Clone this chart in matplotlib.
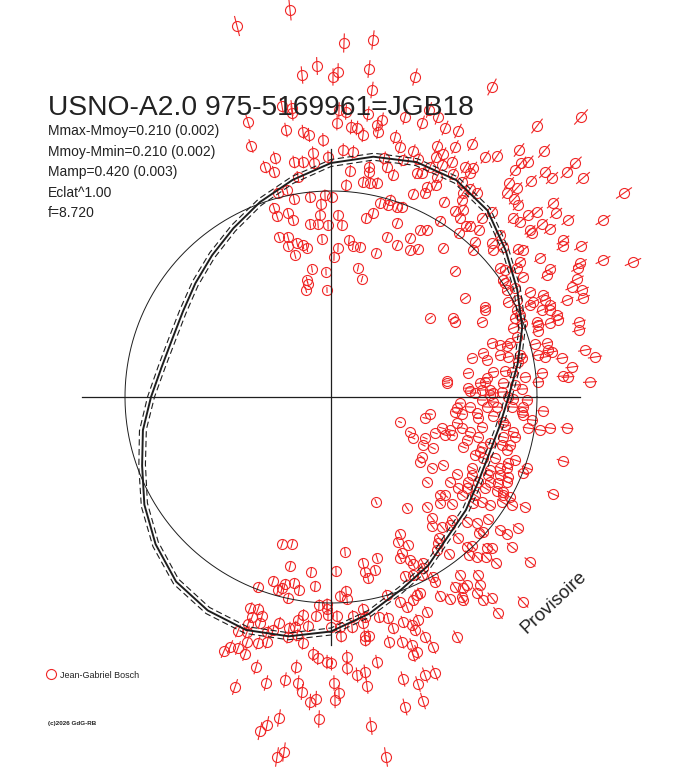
import numpy as np
import matplotlib
matplotlib.use("Agg")
import matplotlib.pyplot as plt
from matplotlib.collections import LineCollection
from matplotlib.lines import Line2D

plt.rcParams['font.family'] = ['Liberation Sans', 'DejaVu Sans']
plt.rcParams['lines.scale_dashes'] = False

# ---------------------------------------------------------------- texts
title_text = "USNO-A2.0 975-5169961=JGB18"
stats_lines = ["Mmax-Mmoy=0.210 (0.002)", "Mmoy-Mmin=0.210 (0.002)",
               "Mamp=0.420 (0.003)", "Eclat^1.00", "f=8.720"]
observer = "Jean-Gabriel Bosch"
copyright_text = "(c)2026 GdG-RB"
stamp_text = "Provisoire"

# ---------------------------------------------------------------- data
# polar light curve: observations projected on the plane (mean brightness = radius 206)
mean_radius = 206
err_frac = 0.027          # relative error on brightness
model_band = 3.5          # +/- band of the fitted curve

model_angle_deg = [0, 10, 20, 30, 40, 50, 60, 70, 80, 90, 100, 110,
                   120, 130, 140, 150, 160, 170, 180, 190, 200, 210, 220, 230,
                   240, 250, 260, 270, 280, 290, 300, 310, 320, 330, 340, 350]
model_radius = [177.5, 189.5, 203.5, 215, 228, 243.5, 250.5, 250, 244, 234, 220.5, 207.5,
                195, 185, 177, 171, 169, 172, 180, 191, 201, 215.5, 229, 241,
                246.5, 248, 243, 234.5, 220, 205, 194.5, 182, 176, 170, 168, 171]

top_left_x = [-94, -41, 13, 42, -14, -29, 2, 7, 38, 41,
              -49, -39, -39, -83, 8, 15, 37, 6, 20, 26,
              32, 46, 51, 47, -45, -28, -22, -8, -80, -56,
              -66, -57, -37, -28, -18, -17, -3, 12, 22, 53,
              38, 19, 38, 56, -33, -44, -53, -37, -21, -6,
              1, 15, 32, 39, 46, -57, -54, -43, -38, -10,
              -11, 7, 35, 42, 49, 57, -21, -13, -3, 11,
              -52, -43, -43, -34, -28, -24, -9, 7, 18, 22,
              29, 45, 56]
top_left_y = [371, 387, 354, 357, 331, 322, 320, 325, 328, 307,
              291, 289, 284, 275, 287, 285, 283, 274, 270, 269,
              262, 272, 277, 265, 267, 265, 262, 257, 251, 239,
              230, 225, 235, 235, 244, 234, 240, 247, 245, 239,
              230, 226, 225, 230, 220, 207, 204, 198, 200, 202,
              200, 212, 215, 214, 214, 189, 181, 184, 177, 193,
              182, 182, 179, 184, 194, 192, 173, 173, 172, 172,
              160, 160, 151, 154, 152, 149, 158, 149, 157, 151,
              150, 144, 160]

top_right_x = [84, 161, 74, 98, 107, 91, 114, 127, 64, 206,
               250, 69, 82, 106, 112, 124, 141, 188, 213, 154,
               166, 72, 87, 105, 111, 121, 99, 134, 142, 190,
               197, 184, 214, 244, 236, 221, 252, 200, 62, 86,
               91, 106, 122, 139, 131, 96, 105, 94, 82, 178,
               186, 176, 183, 187, 139, 146, 131, 132, 113, 59,
               66, 71, 124, 132, 129, 151, 161, 222, 225, 206,
               197, 182, 189, 211, 219, 237, 272, 293, 109, 66,
               89, 96, 135, 139, 128, 148, 199, 201, 169, 79,
               66, 144, 161, 232, 232, 250, 79, 87, 112, 187,
               192, 172, 162, 142]
top_right_y = [320, 310, 280, 287, 280, 274, 269, 266, 260, 271,
               280, 250, 246, 251, 243, 250, 253, 247, 246, 240,
               241, 237, 238, 240, 232, 235, 230, 230, 229, 234,
               235, 227, 225, 234, 225, 219, 219, 216, 222, 224,
               224, 220, 223, 224, 215, 210, 212, 204, 203, 214,
               209, 204, 198, 192, 208, 204, 197, 204, 195, 197,
               190, 190, 186, 187, 179, 179, 185, 194, 184, 185,
               182, 179, 175, 173, 168, 177, 177, 204, 176, 174,
               167, 167, 171, 171, 164, 167, 167, 164, 162, 159,
               152, 155, 154, 157, 151, 151, 147, 148, 149, 148,
               147, 150, 147, 147]

mid_left_x = [-36, 3, -19, -5, 27, 31, -24, -23, -25, -4, 45]
mid_left_y = [142, 140, 128, 125, 129, 118, 117, 113, 107, 107, -105]

mid_right_x = [189, 209, 249, 272, 302, 124, 169, 174, 186, 219,
               216, 247, 192, 172, 174, 246, 241, 251, 252, 184,
               199, 176, 212, 214, 236, 177, 186, 199, 202, 219,
               134, 154, 154, 211, 219, 226, 186, 189, 99, 122,
               124, 151, 184, 191, 206, 207, 219, 227, 248, 248,
               182, 207, 186, 161, 169, 176, 179, 204, 216, 217,
               221, 141, 152, 156, 169, 177, 189, 191, 207, 214,
               231, 254, 264, 187, 241, 137, 162, 174, 181, 194,
               211, 207, 232, 237, 259, 116, 116, 156, 154, 172,
               184, 137, 191, 149, 139, 144, 151, 159, 159, 162,
               171, 177, 182, 196, 151, 162, 129, 126, 139, 156,
               166, 181, 192, 212, 94, 99, 124, 131, 146, 147,
               162, 191, 192, 69, 201, 172, 126, 79, 111, 119,
               131, 151, 174, 182, 197, 209, 219, 236, 82, 104,
               114, 121, 139, 147, 172, 184, 94, 136, 159, 171,
               92, 102, 132, 151, 179, 176, 91, 89, 101, 112,
               144, 149, 152, 164, 177, 184, 196, 232, 141, 159,
               169, 176, 192, 141, 157, 169, 177, 126, 96, 119,
               137, 147, 159, 167, 176, 127, 136, 154, 166, 172,
               109, 114, 131, 144, 172, 179, 222, 109, 121, 142,
               151, 159, 171, 181, 194, 76, 96]
mid_right_y = [135, 139, 134, 137, 135, 126, 129, 127, 129, 128,
               122, 129, 120, 117, 114, 118, 110, 107, 99, 109,
               105, 107, 102, 97, 97, 95, 97, 92, 95, 92,
               99, 90, 87, 87, 87, 82, 87, 82, 79, 79,
               75, 75, 79, 74, 75, 72, 74, 77, 75, 67,
               69, 66, 60, 54, 52, 51, 54, 53, 54, 47,
               45, 39, 44, 37, 42, 40, 42, 39, 42, 40,
               39, 47, 40, 35, 30, 24, 25, 26, 25, 20,
               24, 15, 21, 20, 15, 16, 14, 19, 15, 14,
               12, 9, 8, 14, 6, 4, 7, 7, 2, 4,
               5, 0, -2, -3, -3, -5, -6, -11, -10, -10,
               -10, -10, -10, -14, -21, -17, -15, -17, -16, -21,
               -19, -15, -18, -25, -23, -25, -26, -35, -31, -33,
               -31, -30, -28, -35, -31, -33, -31, -31, -41, -36,
               -38, -38, -35, -40, -40, -40, -41, -43, -46, -48,
               -48, -51, -50, -50, -48, -53, -60, -65, -71, -68,
               -58, -55, -61, -61, -66, -63, -71, -64, -71, -73,
               -71, -71, -76, -78, -78, -78, -80, -77, -85, -85,
               -85, -85, -85, -86, -85, -91, -91, -91, -94, -95,
               -98, -98, -98, -98, -98, -100, -97, -106, -107, -106,
               -105, -108, -105, -108, -110, -111, -110]

bottom_left_x = [-49, -39, 14, 46, -41, -20, 5, 32, 34, 37,
                 44, -73, -58, -53, -46, -49, -37, -32, -16, -43,
                 9, 15, 16, -12, -4, 56, -81, -73, -79, -69,
                 -83, -71, -28, -33, -15, -3, 6, -4, 22, 32,
                 34, 48, 57, -52, -23, -36, -42, -93, -84, -64,
                 -58, -43, -34, 0, 9, 21, 32, 10, 34, 34,
                 38, 58, -73, -64, -84, -107, -101, -93, -86, -28,
                 -18, -13, -4, 0, 16, 16, 46, -75, -35, 26,
                 34, 36, -96, -65, -46, -33, -29, 3, 8, 4,
                 -21, -15, -52, -64, -71, -12, 40, -54, -47, 55]
bottom_left_y = [-147, -147, -155, -161, -169, -175, -174, -166, -175, -181,
                 -173, -190, -184, -193, -187, -191, -186, -193, -189, -201,
                 -199, -194, -202, -208, -207, -198, -211, -212, -220, -219,
                 -227, -226, -218, -223, -219, -218, -219, -212, -219, -212,
                 -220, -220, -221, -226, -229, -230, -231, -234, -235, -235,
                 -233, -240, -238, -230, -230, -230, -226, -239, -239, -243,
                 -239, -245, -246, -245, -245, -254, -250, -251, -257, -246,
                 -257, -261, -265, -266, -260, -271, -265, -270, -270, -278,
                 -275, -289, -290, -286, -283, -286, -295, -286, -296, -303,
                 -305, -302, -321, -328, -334, -322, -329, -360, -355, -360]

bottom_right_x = [101, 101, 111, 121, 119, 136, 146, 157, 169, 176,
                  187, 148, 152, 69, 67, 77, 108, 127, 107, 106,
                  118, 136, 141, 138, 146, 156, 161, 155, 165, 181,
                  199, 71, 69, 79, 82, 92, 92, 74, 82, 91,
                  102, 104, 129, 147, 124, 132, 136, 149, 146, 86,
                  89, 82, 109, 119, 131, 132, 152, 161, 192, 69,
                  76, 96, 167, 72, 81, 87, 84, 62, 94, 126,
                  71, 81, 86, 82, 102, 72, 94, 104, 87, 92,
                  74]
bottom_right_y = [-121, -129, -130, -123, -128, -125, -126, -122, -133, -137,
                  -131, -136, -135, -137, -145, -148, -141, -141, -146, -153,
                  -157, -150, -149, -158, -160, -151, -151, -160, -166, -150,
                  -165, -156, -161, -163, -167, -166, -171, -179, -178, -178,
                  -180, -185, -178, -178, -190, -191, -188, -188, -196, -198,
                  -196, -203, -199, -202, -200, -203, -203, -201, -205, -205,
                  -210, -215, -216, -225, -228, -223, -233, -231, -240, -240,
                  -245, -248, -255, -258, -250, -282, -278, -276, -287, -304,
                  -310]

groups_x = [top_left_x, top_right_x, mid_left_x, mid_right_x, bottom_left_x, bottom_right_x]
groups_y = [top_left_y, top_right_y, mid_left_y, mid_right_y, bottom_left_y, bottom_right_y]
for gx, gy in zip(groups_x, groups_y):
    assert len(gx) == len(gy), (len(gx), len(gy))

obs_x = np.concatenate([np.asarray(g, float) for g in groups_x])
obs_y = np.concatenate([np.asarray(g, float) for g in groups_y])

# brightness (radius) and phase angle of each observation
obs_r = np.hypot(obs_x, obs_y)
obs_phi = np.arctan2(obs_y, obs_x)

# ---------------------------------------------------------------- style
RED = '#f02626'
INK = '#1e1e1e'
W, H = 688, 768

fig = plt.figure(figsize=(W / 100, H / 100), dpi=100)
ax = fig.add_axes([0, 0, 1, 1])
ax.set_xlim(-331, W - 331)
ax.set_ylim(397 - H, 397)
ax.set_aspect('equal')
ax.axis('off')

# radial error bars
err = err_frac * obs_r
ux, uy = np.cos(obs_phi), np.sin(obs_phi)
segs = np.stack([np.column_stack([(obs_r - err) * ux, (obs_r - err) * uy]),
                 np.column_stack([(obs_r + err) * ux, (obs_r + err) * uy])], axis=1)
ax.add_collection(LineCollection(segs, colors=RED, linewidths=0.8, zorder=2))
pts, = ax.plot(obs_x, obs_y, 'o', ls='none', mfc='none', mec=RED, ms=7.2, mew=0.8,
               zorder=2, label=observer)

# axes cross
axis_half = 249
ax.plot([-axis_half, axis_half], [0, 0], color=INK, lw=0.9, zorder=3)
ax.plot([0, 0], [-axis_half + 1, axis_half - 1], color=INK, lw=0.9, zorder=3)

# mean-brightness circle
t = np.linspace(0, 2 * np.pi, 400)
ax.plot(mean_radius * np.cos(t), mean_radius * np.sin(t), color=INK, lw=0.7, zorder=3)

# fitted light curve and its band
ang = np.deg2rad(np.r_[model_angle_deg, model_angle_deg[0] + 360])
rad = np.r_[model_radius, model_radius[0]]
ax.plot(rad * np.cos(ang), rad * np.sin(ang), color=INK, lw=1.4, zorder=4)
for s in (-1, 1):
    rr = rad + s * model_band
    ax.plot(rr * np.cos(ang), rr * np.sin(ang), color=INK, lw=0.8,
            dashes=(4.5, 2.5), zorder=4)

# ---------------------------------------------------------------- texts
def fx(px):
    return px / W

def fy(py):
    return 1 - py / H

fig.text(fx(48), fy(115), title_text, fontsize=20.3, color='#222222', va='baseline')
for txt, base in zip(stats_lines, [135, 156, 176, 197, 217]):
    fig.text(fx(48), fy(base), txt, fontsize=10, color='#222222', va='baseline')

leg = fig.legend(handles=[Line2D([], [], marker='o', ls='none', mfc='none', mec=RED,
                                 ms=7.2, mew=0.8)],
                 labels=[observer], loc='center left',
                 bbox_to_anchor=(fx(46), fy(675)), frameon=False, fontsize=6.5,
                 handlelength=1.0, handletextpad=0.6, borderpad=0, borderaxespad=0)
for tx in leg.get_texts():
    tx.set_color('#222222')

fig.text(fx(48), fy(724), copyright_text, fontsize=4.5, fontweight='bold',
         color='#222222', va='center')

fig.text(fx(554), fy(602), stamp_text, fontsize=13.5, color='#222222', rotation=43,
         ha='center', va='center', rotation_mode='anchor')

fig.savefig('out.png', dpi=100, facecolor='white')
